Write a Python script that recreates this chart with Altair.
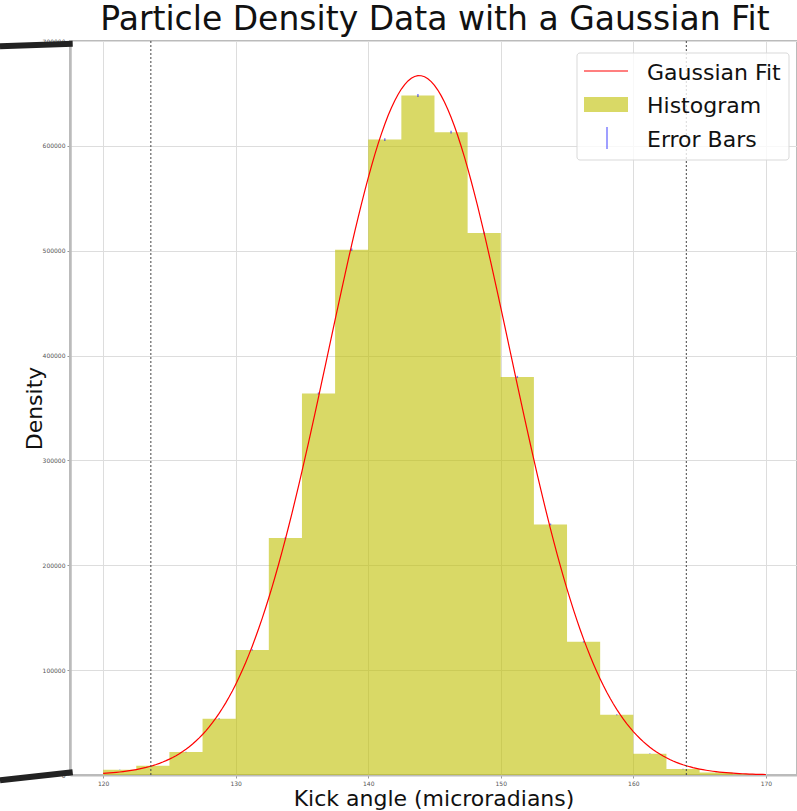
import altair as alt
import numpy as np
import pandas as pd

# ---- data ----
bin_left = [120.0, 122.5, 125.0, 127.5, 130.0, 132.5, 135.0, 137.5, 140.0, 142.5,
            145.0, 147.5, 150.0, 152.5, 155.0, 157.5, 160.0, 162.5, 165.0, 167.5]
bin_right = [122.5, 125.0, 127.5, 130.0, 132.5, 135.0, 137.5, 140.0, 142.5, 145.0,
             147.5, 150.0, 152.5, 155.0, 157.5, 160.0, 162.5, 165.0, 167.5, 170.0]
density = [5000, 8900, 21900, 53600, 119300, 226000, 363800, 501000, 606000, 648000,
           613000, 517000, 379600, 239000, 127000, 57400, 20300, 5700, 2500, 800]
density_err = [150, 200, 300, 450, 650, 850, 1050, 1200, 1300, 1350,
               1300, 1200, 1050, 850, 650, 450, 300, 150, 100, 60]

# Gaussian fit parameters
fit_amplitude = 667000
fit_mean = 143.85
fit_sigma = 6.85
fit_range = [120.0, 170.0]

ref_lines = [123.6, 164.0]

x_ticks = [120, 130, 140, 150, 160, 170]
y_ticks = [0, 100000, 200000, 300000, 400000, 500000, 600000, 700000]

# ---- tables ----
hist_df = pd.DataFrame({
    "left": bin_left, "right": bin_right, "density": density, "err": density_err,
})
hist_df["center"] = (hist_df["left"] + hist_df["right"]) / 2
hist_df["lo"] = hist_df["density"] - hist_df["err"]
hist_df["hi"] = hist_df["density"] + hist_df["err"]

# outline of the histogram as one step shape (left edges + final right edge)
step_df = pd.DataFrame({
    "x": bin_left + [bin_right[-1]],
    "y": density + [density[-1]],
})

fx = np.linspace(fit_range[0], fit_range[1], 201)
fit_df = pd.DataFrame({
    "x": fx,
    "y": fit_amplitude * np.exp(-((fx - fit_mean) ** 2) / (2 * fit_sigma ** 2)),
})
ref_df = pd.DataFrame({"x": ref_lines})
one = pd.DataFrame({"a": [0]})

FONT = "DejaVu Sans"
W, H = 727, 734
xscale = alt.Scale(domain=[117.5, 172.35], nice=False, zero=False)
yscale = alt.Scale(domain=[0, 700000], nice=False)

x_axis = alt.Axis(
    values=x_ticks, format="d", labelFontSize=6, labelColor="#555555",
    tickSize=3, tickColor="#999999", labelPadding=2,
    domainColor="#bbbbbb", domainWidth=2,
    grid=True, gridColor="#dddddd", gridWidth=1,
    title="Kick angle (microradians)", titleFontSize=22, titleFontWeight="normal",
    titleColor="#111111", titleFont=FONT, titleY=30, titleBaseline="alphabetic",
)
y_axis = alt.Axis(
    values=y_ticks, format="d", labelFontSize=6, labelColor="#555555",
    tickSize=3, tickColor="#999999", labelPadding=2,
    domainColor="#bbbbbb", domainWidth=2.5,
    grid=True, gridColor="#dddddd", gridWidth=1,
    title="Density", titleFontSize=22, titleFontWeight="normal",
    titleColor="#111111", titleFont=FONT, titleAngle=270, titleX=-29,
    titleY=H / 2, titleBaseline="alphabetic", titleAlign="center",
)

bars = alt.Chart(step_df).mark_area(
    color="#bfbf00", opacity=0.6, interpolate="step-after"
).encode(
    x=alt.X("x:Q", scale=xscale, axis=x_axis),
    y=alt.Y("y:Q", scale=yscale, axis=y_axis),
    y2=alt.datum(0),
)

errbars = alt.Chart(hist_df).mark_rule(color="blue", opacity=0.5, strokeWidth=1.5).encode(
    x=alt.X("center:Q", scale=xscale, axis=x_axis),
    y=alt.Y("lo:Q", scale=yscale, axis=y_axis),
    y2="hi:Q",
)

curve = alt.Chart(fit_df).mark_line(color="red", strokeWidth=1.2).encode(
    x=alt.X("x:Q", scale=xscale, axis=x_axis),
    y=alt.Y("y:Q", scale=yscale, axis=y_axis),
)

refs = alt.Chart(ref_df).mark_rule(color="#444444", strokeDash=[2, 2], strokeWidth=1).encode(
    x=alt.X("x:Q", scale=xscale, axis=x_axis),
)

# legend (drawn manually, upper right)
legend_box = alt.Chart(one).mark_rect(
    fill="white", fillOpacity=0.8, stroke="#d9d9d9", strokeWidth=1, cornerRadius=3, clip=False
).encode(x=alt.value(507), x2=alt.value(719), y=alt.value(12), y2=alt.value(119))
leg_line = alt.Chart(one).mark_rule(color="red", strokeWidth=1.2, clip=False).encode(
    x=alt.value(514), x2=alt.value(558), y=alt.value(30), y2=alt.value(30))
leg_rect = alt.Chart(one).mark_rect(color="#bfbf00", opacity=0.6, clip=False).encode(
    x=alt.value(514), x2=alt.value(558), y=alt.value(56), y2=alt.value(71))
leg_err = alt.Chart(one).mark_rule(color="blue", opacity=0.5, strokeWidth=1.5, clip=False).encode(
    x=alt.value(537), x2=alt.value(537), y=alt.value(86), y2=alt.value(108))
leg_texts = []
for label, py in [("Gaussian Fit", 39), ("Histogram", 72), ("Error Bars", 106)]:
    leg_texts.append(
        alt.Chart(one).mark_text(
            text=label, font=FONT, fontSize=22, color="#111111",
            align="left", baseline="alphabetic", clip=False,
        ).encode(x=alt.value(577), y=alt.value(py))
    )

# thick decorative strokes at the left edge
stroke_top = alt.Chart(one).mark_rule(color="#222222", strokeWidth=6, clip=False).encode(
    x=alt.value(-70), x2=alt.value(2.7), y=alt.value(5.3), y2=alt.value(2.7))
stroke_bot = alt.Chart(one).mark_rule(color="#222222", strokeWidth=6, clip=False).encode(
    x=alt.value(-70), x2=alt.value(2.7), y=alt.value(739.3), y2=alt.value(731.3))

title = alt.Chart(one).mark_text(
    text="Particle Density Data with a Gaussian Fit", font=FONT, fontSize=33,
    color="#111111", align="center", baseline="alphabetic", clip=False,
).encode(x=alt.value(365), y=alt.value(-11))

chart = alt.layer(
    bars, errbars, curve, refs, legend_box, leg_line, leg_rect, leg_err,
    *leg_texts, stroke_top, stroke_bot, title,
).properties(
    width=W, height=H,
    autosize=alt.AutoSizeParams(type="none"),
    padding={"left": 70, "top": 41, "right": 0, "bottom": 36},
).configure(
    font=FONT,
).configure_view(
    stroke="#bbbbbb", strokeWidth=2,
)

chart.save("out.html", embed_options={"renderer": "svg", "actions": False})
